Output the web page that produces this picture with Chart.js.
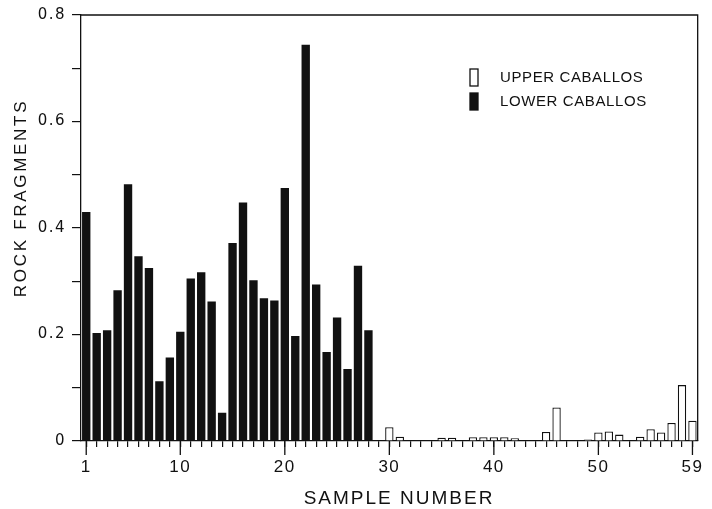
<!DOCTYPE html>
<html>
<head>
<meta charset="utf-8">
<title>Rock fragments by sample number</title>
<script src="https://cdn.jsdelivr.net/npm/chart.js@4.4.1/dist/chart.umd.min.js"></script>
<style>
  body { margin: 0; background: #fff; }
  #chart { display: block; }
</style>
</head>
<body>
<canvas id="chart" width="712" height="509"></canvas>
<script>
/* =====================
Data
===================== */

var sampleNumbers = ['1','2','3','4','5','6','7','8','9','10',
  '11','12','13','14','15','16','17','18','19','20',
  '21','22','23','24','25','26','27','28','29','30',
  '31','32','33','34','35','36','37','38','39','40',
  '41','42','43','44','45','46','47','48','49','50',
  '51','52','53','54','55','56','57','58','59'];

// samples 1 - 28
var lowerCaballos = [0.430, 0.203, 0.208, 0.283, 0.482, 0.347, 0.325, 0.112, 0.157, 0.205,
  0.305, 0.317, 0.262, 0.053, 0.372, 0.448, 0.302, 0.268, 0.264, 0.475,
  0.197, 0.744, 0.294, 0.167, 0.232, 0.135, 0.329, 0.208];

// samples 29 - 59
var upperCaballos = [0, 0.026, 0.008, 0, 0, 0, 0.006, 0.006, 0, 0.007,
  0.007, 0.007, 0.007, 0.005, 0, 0, 0.017, 0.063, 0, 0,
  0.003, 0.016, 0.018, 0.012, 0, 0.008, 0.022, 0.016, 0.034, 0.105,
  0.038];

var labeledSamples = ['1', '10', '20', '30', '40', '50', '59'];
var yTickLabels = ['0', '0.2', '0.4', '0.6', '0.8'];

var xTitle = 'SAMPLE NUMBER';
var yTitle = 'ROCK FRAGMENTS';

var ink = '#111';

// pad each series out to the full run of samples
var lowerData = lowerCaballos.slice();
while (lowerData.length < sampleNumbers.length) lowerData.push(null);
var upperData = [];
while (upperData.length < sampleNumbers.length - upperCaballos.length) upperData.push(null);
upperData = upperData.concat(upperCaballos);

/* =====================
Extra drawing: box, long ticks, titles, legend
===================== */

var extras = {
  id: 'extras',
  beforeDraw: function(chart) {
    chart.ctx.letterSpacing = '1.5px';
  },
  afterDraw: function(chart) {
    var ctx = chart.ctx;
    var a = chart.chartArea;
    var xs = chart.scales.x;

    ctx.save();
    ctx.strokeStyle = ink;
    ctx.lineWidth = 1.3;
    ctx.beginPath();
    ctx.moveTo(a.left, a.top);
    ctx.lineTo(a.right, a.top);
    ctx.lineTo(a.right, a.bottom);
    // longer ticks under the numbered samples
    labeledSamples.forEach(function(s) {
      var px = xs.getPixelForValue(sampleNumbers.indexOf(s));
      ctx.moveTo(px, a.bottom);
      ctx.lineTo(px, a.bottom + 14);
    });
    ctx.stroke();

    ctx.fillStyle = ink;
    ctx.textAlign = 'center';
    ctx.textBaseline = 'middle';

    // x title
    ctx.font = '19px "Liberation Sans", Arial, sans-serif';
    ctx.letterSpacing = '2px';
    ctx.fillText(xTitle, 399, 499);

    // y title
    ctx.save();
    ctx.translate(21, 198);
    ctx.rotate(-Math.PI / 2);
    ctx.font = '17px "Liberation Sans", Arial, sans-serif';
    ctx.letterSpacing = '2.7px';
    ctx.fillText(yTitle, 0, 0);
    ctx.restore();

    // legend, upper first like the original
    ctx.font = '15px "Liberation Sans", Arial, sans-serif';
    ctx.letterSpacing = '0.6px';
    ctx.textAlign = 'left';
    var items = chart.data.datasets.slice().reverse();
    items.forEach(function(ds, i) {
      var y = 69 + i * 24;
      ctx.fillStyle = ds.backgroundColor;
      ctx.fillRect(470, y, 8, 17);
      ctx.strokeStyle = ink;
      ctx.lineWidth = 1.3;
      ctx.strokeRect(470, y, 8, 17);
      ctx.fillStyle = ink;
      ctx.fillText(ds.label, 500, y + 9);
    });
    ctx.restore();
  }
};

/* =====================
Chart
===================== */

var ctx = document.getElementById('chart').getContext('2d');
var chart = new Chart(ctx, {
  type: 'bar',
  data: {
    labels: sampleNumbers,
    datasets: [
      {
        label: 'LOWER CABALLOS',
        data: lowerData,
        backgroundColor: ink,
        borderWidth: 0
      },
      {
        label: 'UPPER CABALLOS',
        data: upperData,
        backgroundColor: '#fff',
        borderColor: ink,
        borderWidth: 1.3
      }
    ]
  },
  options: {
    responsive: false,
    animation: false,
    layout: { padding: { left: 0, top: 15, right: 11, bottom: 0 } },
    datasets: {
      bar: { grouped: false, barPercentage: 0.8, categoryPercentage: 1 }
    },
    plugins: {
      legend: { display: false },
      tooltip: { enabled: false }
    },
    scales: {
      x: {
        type: 'category',
        offset: true,
        afterFit: function(s) { s.height = 68; },
        grid: {
          offset: false,
          drawOnChartArea: false,
          tickLength: 6,
          color: ink,
          lineWidth: 1.2
        },
        border: { color: ink, width: 1.3 },
        ticks: {
          autoSkip: false,
          maxRotation: 0,
          padding: 10,
          color: ink,
          font: { family: '"Liberation Sans", Arial, sans-serif', size: 17 },
          callback: function(v) {
            var s = this.getLabelForValue(v);
            return labeledSamples.indexOf(s) >= 0 ? s : '';
          }
        }
      },
      y: {
        min: 0,
        max: 0.8,
        afterFit: function(s) { s.width = 81; },
        grid: {
          drawOnChartArea: false,
          tickLength: 9,
          color: ink,
          lineWidth: 1.2
        },
        border: { color: ink, width: 1.3 },
        ticks: {
          stepSize: 0.1,
          padding: 6,
          color: ink,
          font: { family: '"DejaVu Sans", sans-serif', size: 15 },
          callback: function(v) {
            var t = Math.round(v * 10);
            return t % 2 === 0 ? yTickLabels[t / 2] : '';
          }
        }
      }
    }
  },
  plugins: [extras]
});
</script>
</body>
</html>
